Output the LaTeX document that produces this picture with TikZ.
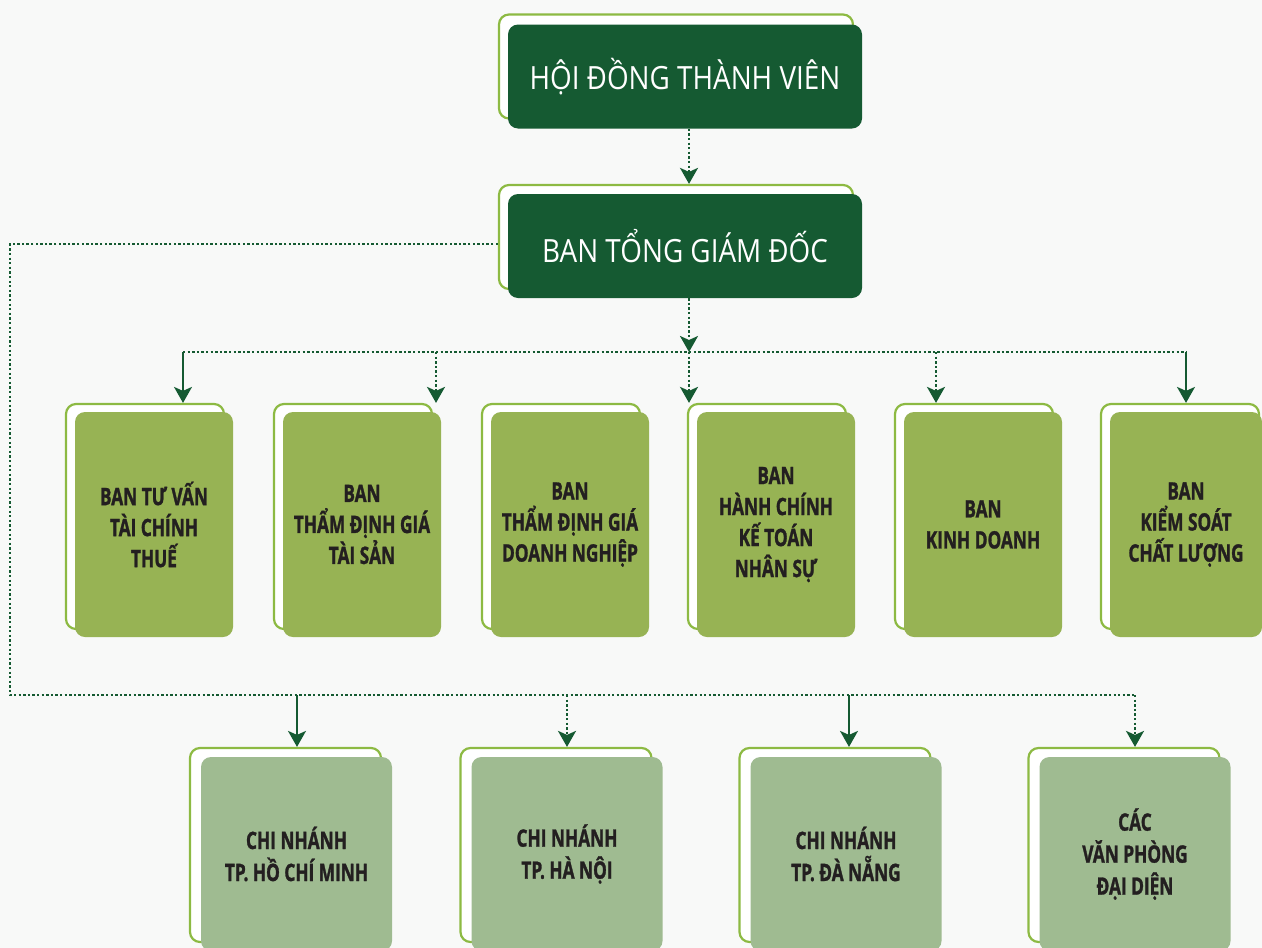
\documentclass[tikz,border=0pt]{standalone}
\usepackage{fontspec}
\setmainfont{Open Sans}
\newfontfamily\topfont{Open Sans}[FakeStretch=0.87]
\newfontfamily\condfont{Open Sans}[FakeStretch=0.72,FakeBold=1.2]
\usetikzlibrary{arrows.meta}
\definecolor{dkgreen}{HTML}{155A32}
\definecolor{olivefill}{HTML}{97B354}
\definecolor{sagefill}{HTML}{9FBB91}
\definecolor{framegreen}{HTML}{8DBA43}
\definecolor{txtdark}{HTML}{231F20}
\definecolor{bgcol}{HTML}{F8F9F8}
\begin{document}
\begin{tikzpicture}[x=1pt,y=-1pt,
  framebox/.style={draw=framegreen, line width=2.2pt, fill=white, rounded corners=10pt, inner sep=0pt},
  headbox/.style={fill=dkgreen, rounded corners=10pt, minimum width=354pt, minimum height=104pt, inner sep=0pt, text=white, font=\topfont\fontsize{32}{36}\selectfont},
  deptbox/.style={fill=olivefill, rounded corners=10pt, minimum width=158pt, minimum height=225pt, inner sep=0pt, text=txtdark, align=center, font=\condfont\bfseries\fontsize{24}{31}\selectfont},
  branchbox/.style={fill=sagefill, rounded corners=10pt, minimum width=191pt, minimum height=194pt, inner sep=0pt, text=txtdark, align=center, font=\condfont\bfseries\fontsize{24}{32}\selectfont},
  dotline/.style={draw=dkgreen, line width=2.3pt, dash pattern=on 2.3pt off 2.3pt},
  solidline/.style={draw=dkgreen, line width=2pt},
  tipdown/.style={-{Stealth[length=16pt,width=18pt,inset=4pt]}}
]
\useasboundingbox (0,0) rectangle (1262,948);
\clip (0,0) rectangle (1262,948);
\fill[bgcol] (0,0) rectangle (1262,948);

% head boxes
\node[framebox, minimum width=354pt, minimum height=104pt] (hdtvF) at (676,66.5) {};
\node[headbox] (hdtv) at (685,76.5) {HỘI ĐỒNG THÀNH VIÊN};
\node[framebox, minimum width=354pt, minimum height=104pt] (btgdF) at (676,237) {};
\node[headbox] (btgd) at (685,246) {BAN TỔNG GIÁM ĐỐC};

% department boxes
\node[framebox, minimum width=158pt, minimum height=225pt] (d1F) at (145,516.5) {};
\node[deptbox] (d1) at (154,524.5) {BAN TƯ VẤN\\TÀI CHÍNH\\THUẾ};
\node[framebox, minimum width=158pt, minimum height=225pt] (d2F) at (353,516.5) {};
\node[deptbox] (d2) at (362,524.5) {BAN\\THẨM ĐỊNH GIÁ\\TÀI SẢN};
\node[framebox, minimum width=158pt, minimum height=225pt] (d3F) at (561,516.5) {};
\node[deptbox] (d3) at (570,524.5) {BAN\\THẨM ĐỊNH GIÁ\\DOANH NGHIỆP};
\node[framebox, minimum width=158pt, minimum height=225pt] (d4F) at (767,516.5) {};
\node[deptbox] (d4) at (776,524.5) {BAN\\HÀNH CHÍNH\\KẾ TOÁN\\NHÂN SỰ};
\node[framebox, minimum width=158pt, minimum height=225pt] (d5F) at (974,516.5) {};
\node[deptbox] (d5) at (983,524.5) {BAN\\KINH DOANH};
\node[framebox, minimum width=158pt, minimum height=225pt] (d6F) at (1180,516.5) {};
\node[deptbox, minimum width=152pt] (d6) at (1186,524.5) {BAN\\KIỂM SOÁT\\CHẤT LƯỢNG};

% branch boxes
\node[framebox, minimum width=191pt, minimum height=194pt] (b1F) at (285.5,845) {};
\node[branchbox] (b1) at (296.5,854) {CHI NHÁNH\\TP. HỒ CHÍ MINH};
\node[framebox, minimum width=191pt, minimum height=194pt] (b2F) at (556,845) {};
\node[branchbox] (b2) at (567,854) {CHI NHÁNH\\TP. HÀ NỘI};
\node[framebox, minimum width=191pt, minimum height=194pt] (b3F) at (835,845) {};
\node[branchbox] (b3) at (846,854) {CHI NHÁNH\\TP. ĐÀ NẴNG};
\node[framebox, minimum width=191pt, minimum height=194pt] (b4F) at (1124,845) {};
\node[branchbox] (b4) at (1135,854) {CÁC\\VĂN PHÒNG\\ĐẠI DIỆN};

% junction coordinates
\coordinate (cm) at (689,352);
\coordinate (j1) at (183,352);
\coordinate (j2) at (436,352);
\coordinate (j4) at (689,352);
\coordinate (j5) at (936,352);
\coordinate (j6) at (1186,352);
\coordinate (lrow) at (0,244);
\coordinate (lcorner) at (10,695);
\coordinate (k1) at (297,695);
\coordinate (k2) at (567,695);
\coordinate (k3) at (849,695);
\coordinate (k4) at (1135,695);

% connectors
\draw[dotline, tipdown] (hdtv.south -| cm) -- (btgdF.north -| cm);
\draw[dotline, tipdown] (btgd.south -| cm) -- (cm);
\draw[dotline] (j1) -- (j6);
\draw[solidline, tipdown] (j1) -- (d1F.north -| j1);
\draw[dotline, tipdown] (j2) -- (d2F.north -| j2);
\draw[dotline, tipdown] (j4) -- (d4F.north -| j4);
\draw[dotline, tipdown] (j5) -- (d5F.north -| j5);
\draw[solidline, tipdown] (j6) -- (d6F.north -| j6);

\draw[dotline] (btgdF.west |- lrow) -| (lcorner) -- (k4);
\draw[solidline, tipdown] (k1) -- (b1F.north -| k1);
\draw[dotline, tipdown] (k2) -- (b2F.north -| k2);
\draw[solidline, tipdown] (k3) -- (b3F.north -| k3);
\draw[dotline, tipdown] (k4) -- (b4F.north -| k4);
\end{tikzpicture}
\end{document}
